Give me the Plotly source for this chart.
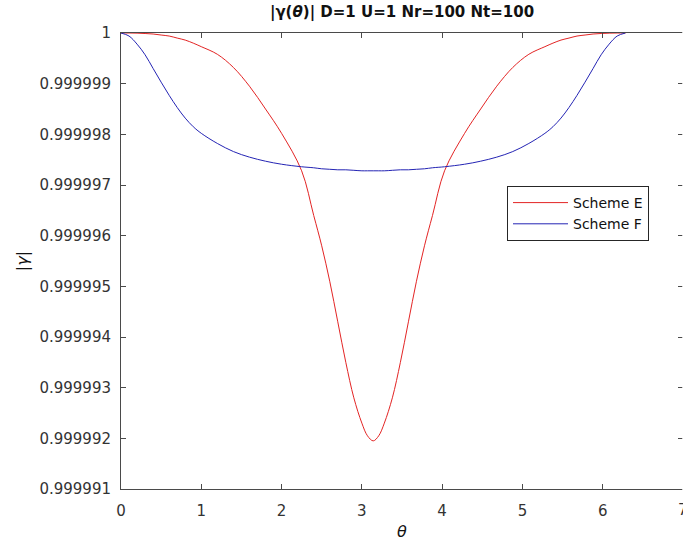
import plotly.graph_objects as go

# Sample angles over one period [0, 2*pi]
theta = [0.0, 0.1, 0.2, 0.3, 0.4, 0.5, 0.6, 0.7, 0.8, 0.9, 1.0, 1.2, 1.4, 1.6, 1.8,
         2.0, 2.25, 2.4, 2.5, 2.6, 2.7, 2.8, 2.9, 3.0, 3.07, 3.1416,
         3.21, 3.28, 3.38, 3.48, 3.58, 3.68, 3.78, 3.88, 4.03, 4.28, 4.48, 4.68,
         4.88, 5.08, 5.28, 5.38, 5.48, 5.58, 5.68, 5.78, 5.88, 5.98, 6.08, 6.18, 6.2832]

# |gamma| of scheme E
gamma_e = [1.0, 1.0, 0.999999997, 0.99999999, 0.99999998, 0.99999996, 0.99999994,
           0.9999999, 0.99999986, 0.9999998, 0.99999973, 0.99999958, 0.99999932,
           0.99999895, 0.9999985, 0.99999802, 0.99999728, 0.9999964, 0.9999958,
           0.9999951, 0.9999943, 0.9999935, 0.9999928, 0.9999923, 0.99999205, 0.99999195,
           0.99999205, 0.9999923, 0.9999928, 0.9999935, 0.9999943, 0.9999951, 0.9999958,
           0.9999964, 0.99999728, 0.99999802, 0.9999985, 0.99999895, 0.99999932,
           0.99999958, 0.99999973, 0.9999998, 0.99999986, 0.9999999, 0.99999994,
           0.99999996, 0.99999998, 0.99999999, 0.999999997, 1.0, 1.0]

# |gamma| of scheme F
gamma_f = [1.0, 0.99999994, 0.99999978, 0.99999957, 0.9999993, 0.99999903, 0.99999877,
           0.99999853, 0.99999832, 0.99999815, 0.99999802, 0.99999782, 0.99999766,
           0.99999755, 0.99999747, 0.99999741, 0.99999736, 0.99999734, 0.99999732,
           0.99999731, 0.9999973, 0.9999973, 0.99999729, 0.99999728, 0.99999728, 0.99999728,
           0.99999728, 0.99999728, 0.99999729, 0.9999973, 0.9999973, 0.99999731,
           0.99999732, 0.99999734, 0.99999736, 0.99999741, 0.99999747, 0.99999755,
           0.99999766, 0.99999782, 0.99999802, 0.99999815, 0.99999832, 0.99999853,
           0.99999877, 0.99999903, 0.9999993, 0.99999957, 0.99999978, 0.99999994, 1.0]

x_ticks = [0, 1, 2, 3, 4, 5, 6, 7]
y_ticks = [0.999991, 0.999992, 0.999993, 0.999994, 0.999995, 0.999996,
           0.999997, 0.999998, 0.999999, 1.0]
y_tick_text = ["0.999991", "0.999992", "0.999993", "0.999994", "0.999995",
               "0.999996", "0.999997", "0.999998", "0.999999", "1"]

FONT = "DejaVu Sans"
AXIS_COLOR = "#4a4a4a"
TEXT_COLOR = "#333333"
X_RANGE = [0, 7]
Y_RANGE = [0.999991, 1.0]

fig = go.Figure()
fig.add_trace(go.Scatter(x=theta, y=gamma_e, mode="lines", name="Scheme E",
                         line=dict(color="#e32424", width=1, shape="spline")))
fig.add_trace(go.Scatter(x=theta, y=gamma_f, mode="lines", name="Scheme F",
                         line=dict(color="#2424b4", width=1, shape="spline")))

# the last x tick label sits on the page edge, so place it by hand
fig.add_annotation(x=x_ticks[-1], xref="x", y=0, yref="paper", yanchor="top",
                   yshift=-10, text=str(x_ticks[-1]), showarrow=False,
                   font=dict(family=FONT, size=15, color=TEXT_COLOR))

# hide the mirrored right-hand axis line, keeping its ticks
fig.add_shape(type="line", xref="paper", yref="paper", x0=1, x1=1, y0=-0.01, y1=1.01,
              line=dict(color="white", width=1.5), layer="above")

fig.update_layout(
    width=683, height=548,
    margin=dict(l=121, r=0, t=33, b=59),
    paper_bgcolor="white", plot_bgcolor="white",
    font=dict(family=FONT, size=15, color=TEXT_COLOR),
    title=dict(text="<b>|γ(<i>θ</i>)| D=1 U=1 Nr=100 Nt=100</b>",
               x=0.5, xref="paper", xanchor="center",
               y=1 - 12 / 548, yref="container", yanchor="middle",
               font=dict(family=FONT, size=15, color="#111111")),
    xaxis=dict(range=X_RANGE, tickvals=x_ticks, ticks="inside", ticklen=5,
               tickcolor=AXIS_COLOR, showline=True, linecolor=AXIS_COLOR, linewidth=1,
               mirror="ticks", showgrid=False, zeroline=False, ticklabelstandoff=8,
               title=dict(text="<i>θ</i>", standoff=6, font=dict(size=16, color="#111111"))),
    yaxis=dict(range=Y_RANGE, tickvals=y_ticks, ticktext=y_tick_text, ticks="inside",
               ticklen=5, tickcolor=AXIS_COLOR, showline=True, linecolor=AXIS_COLOR,
               linewidth=1, mirror="ticks", showgrid=False, zeroline=False,
               ticklabelstandoff=6,
               title=dict(text="|<i>γ</i>|", standoff=6, font=dict(size=16, color="#111111"))),
    legend=dict(x=(507 - 121) / 562, y=(489 - 186) / 456, xanchor="left", yanchor="top",
                bgcolor="white", bordercolor="#262626", borderwidth=1,
                font=dict(family=FONT, size=14, color="#111111"),
                itemwidth=55, tracegroupgap=0),
    showlegend=True,
)

fig.write_html("out.html")
